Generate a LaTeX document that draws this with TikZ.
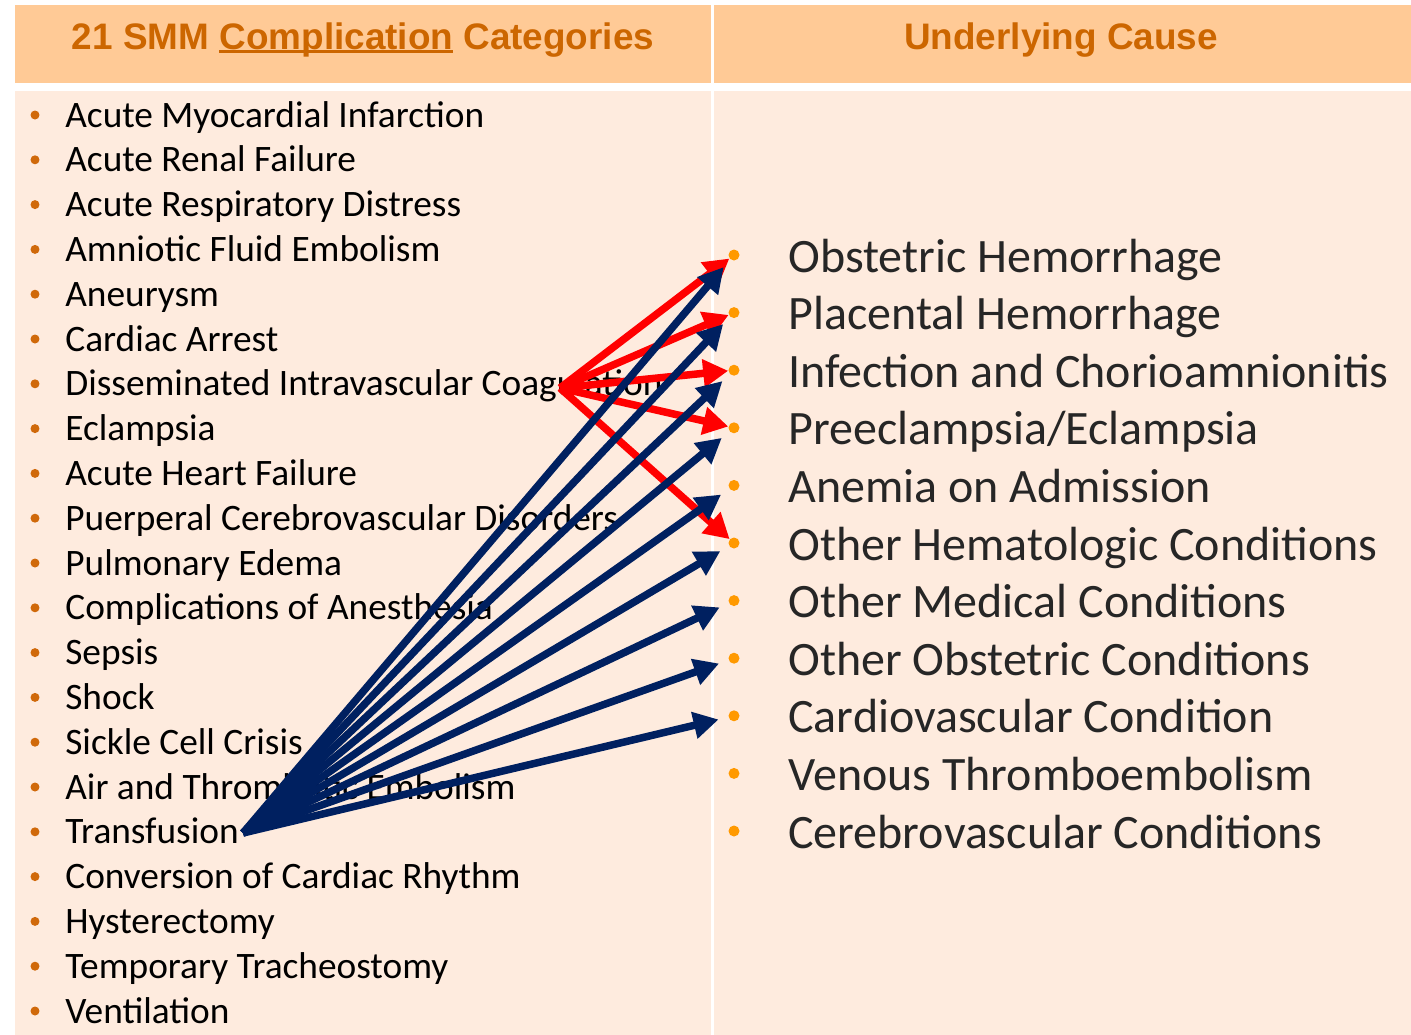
\documentclass[tikz,border=0pt]{standalone}
\usepackage{fontspec}
\setmainfont{Carlito}
\newfontfamily\hdrfont{Liberation Sans}
\usetikzlibrary{arrows.meta}
\definecolor{hdrfill}{HTML}{FFCA96}
\definecolor{bodyfill}{HTML}{FEEBDE}
\definecolor{hdrtext}{HTML}{CC6600}
\definecolor{dotdark}{HTML}{D0690A}
\definecolor{dotlight}{HTML}{FF9900}
\definecolor{navy}{HTML}{002060}
\definecolor{txtgray}{HTML}{262626}
\newcommand{\hdrline}[1]{\setbox0\hbox{#1}\rlap{\rule[-0.11em]{\wd0}{0.07em}}\box0\relax}
\begin{document}
\begin{tikzpicture}[x=0.02cm,y=-0.02cm,
  hdr/.style={anchor=base,inner sep=0pt,text=hdrtext,font=\hdrfont\bfseries\fontsize{21}{25}\selectfont},
  ltxt/.style={anchor=base west,inner sep=0pt,font=\fontsize{21.25}{25}\selectfont},
  rtxt/.style={anchor=base west,inner sep=0pt,text=txtgray,font=\fontsize{27.3}{32}\selectfont},
  ldot/.style={circle,fill=dotdark,inner sep=0pt,minimum size=0.18cm},
  rdot/.style={circle,fill=dotlight,inner sep=0pt,minimum size=0.22cm},
  redarr/.style={-{Triangle[length=0.5cm,width=0.54cm]},line width=0.15cm,red},
  bluearr/.style={-{Triangle[length=0.5cm,width=0.52cm]},line width=0.15cm,navy,shorten >=0.2cm}]
\useasboundingbox(0,0)rectangle(1411,1035);
\fill[hdrfill](15,5)rectangle(711,83);
\fill[hdrfill](714,5)rectangle(1411,83);
\fill[bodyfill](15,91)rectangle(711,1035);
\fill[bodyfill](714,91)rectangle(1411,1035);
\node[hdr](hl)at(363,49){21 SMM \hdrline{Complication} Categories};
\node[hdr](hr)at(1061,49){Underlying Cause};
\node[ldot](l1)at(35,115){};\node[ltxt](ami)at(65,127){Acute Myocardial Infarction};
\node[ldot](l2)at(35,159.8){};\node[ltxt](arf)at(65,171.8){Acute Renal Failure};
\node[ldot](l3)at(35,204.6){};\node[ltxt](ards)at(65,216.6){Acute Respiratory Distress};
\node[ldot](l4)at(35,249.4){};\node[ltxt](afe)at(65,261.4){Amniotic Fluid Embolism};
\node[ldot](l5)at(35,294.2){};\node[ltxt](aneu)at(65,306.2){Aneurysm};
\node[ldot](l6)at(35,339){};\node[ltxt](ca)at(65,351){Cardiac Arrest};
\node[ldot](l7)at(35,383.8){};\node[ltxt](dic)at(65,395.8){Disseminated Intravascular Coagulation};
\node[ldot](l8)at(35,428.6){};\node[ltxt](ecl)at(65,440.6){Eclampsia};
\node[ldot](l9)at(35,473.4){};\node[ltxt](ahf)at(65,485.4){Acute Heart Failure};
\node[ldot](l10)at(35,518.2){};\node[ltxt](pcd)at(65,530.2){Puerperal Cerebrovascular Disorders};
\node[ldot](l11)at(35,563){};\node[ltxt](pe)at(65,575){Pulmonary Edema};
\node[ldot](l12)at(35,607.8){};\node[ltxt](anes)at(65,619.8){Complications of Anesthesia};
\node[ldot](l13)at(35,652.6){};\node[ltxt](seps)at(65,664.6){Sepsis};
\node[ldot](l14)at(35,697.4){};\node[ltxt](shock)at(65,709.4){Shock};
\node[ldot](l15)at(35,742.2){};\node[ltxt](scc)at(65,754.2){Sickle Cell Crisis};
\node[ldot](l16)at(35,787){};\node[ltxt](ate)at(65,799){Air and Thrombotic Embolism};
\node[ldot](l17)at(35,831.8){};\node[ltxt](trans)at(65,843.8){Transfusion};
\node[ldot](l18)at(35,876.6){};\node[ltxt](ccr)at(65,888.6){Conversion of Cardiac Rhythm};
\node[ldot](l19)at(35,921.4){};\node[ltxt](hyst)at(65,933.4){Hysterectomy};
\node[ldot](l20)at(35,966.2){};\node[ltxt](tt)at(65,978.2){Temporary Tracheostomy};
\node[ldot](l21)at(35,1011){};\node[ltxt](vent)at(65,1023){Ventilation};
\node[rdot](r1)at(734,255){};\node[rtxt](obh)at(788,272){Obstetric Hemorrhage};
\node[rdot](r2)at(734,312.6){};\node[rtxt](plh)at(788,329.6){Placental Hemorrhage};
\node[rdot](r3)at(734,370.2){};\node[rtxt](inf)at(788,387.2){Infection and Chorioamnionitis};
\node[rdot](r4)at(734,427.8){};\node[rtxt](pre)at(788,444.8){Preeclampsia/Eclampsia};
\node[rdot](r5)at(734,485.4){};\node[rtxt](ane)at(788,502.4){Anemia on Admission};
\node[rdot](r6)at(734,543){};\node[rtxt](hem)at(788,560){Other Hematologic Conditions};
\node[rdot](r7)at(734,600.6){};\node[rtxt](med)at(788,617.6){Other Medical Conditions};
\node[rdot](r8)at(734,658.2){};\node[rtxt](obs)at(788,675.2){Other Obstetric Conditions};
\node[rdot](r9)at(734,715.8){};\node[rtxt](car)at(788,732.8){Cardiovascular Condition};
\node[rdot](r10)at(734,773.4){};\node[rtxt](vte)at(788,790.4){Venous Thromboembolism};
\node[rdot](r11)at(734,831){};\node[rtxt](cer)at(788,848){Cerebrovascular Conditions};
\coordinate(dicsrc)at(560,388);
\coordinate(trsrc)at(243,833);
\draw[redarr](dicsrc)--(r1);
\draw[redarr](dicsrc)--(r2);
\draw[redarr](dicsrc)--(r3);
\draw[redarr](dicsrc)--(r4);
\draw[redarr](dicsrc)--(r6);
\draw[bluearr](trsrc)--(r1);
\draw[bluearr](trsrc)--(r2);
\draw[bluearr](trsrc)--(r3);
\draw[bluearr](trsrc)--(r4);
\draw[bluearr](trsrc)--(r5);
\draw[bluearr](trsrc)--(r6);
\draw[bluearr](trsrc)--(r7);
\draw[bluearr](trsrc)--(r8);
\draw[bluearr](trsrc)--(r9);
\end{tikzpicture}
\end{document}
